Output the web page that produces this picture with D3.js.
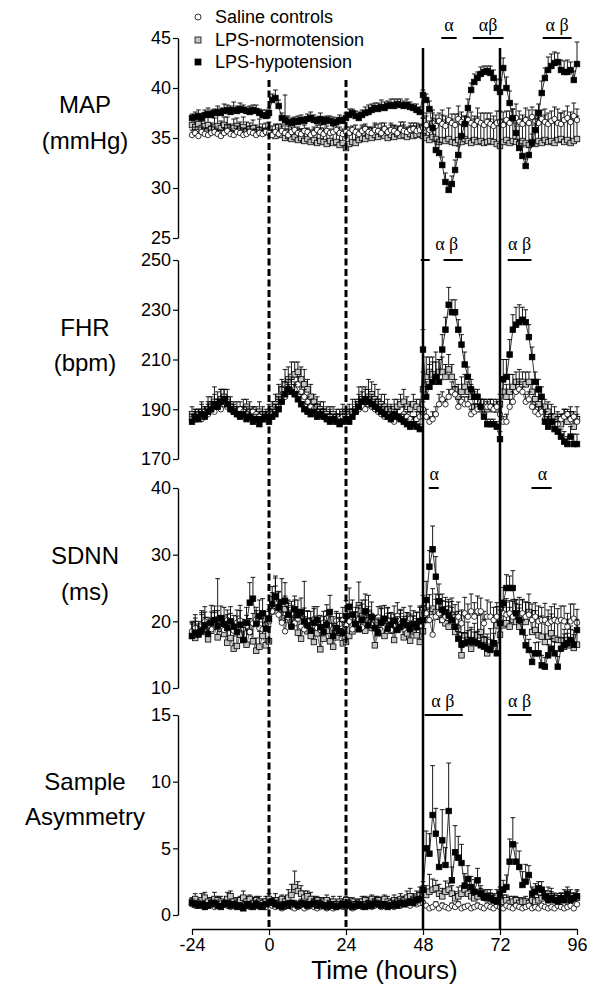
<!DOCTYPE html>
<html><head><meta charset="utf-8">
<script src="https://cdn.jsdelivr.net/npm/d3@7"></script>
<style>body{margin:0;background:#fff}svg{display:block}</style>
</head><body><svg id="c" width="589" height="988"></svg>
<script>
const hours = d3.range(-24, 97);
const xTicks = [-24, 0, 24, 48, 72, 96];
const seriesNames = ["Saline controls", "LPS-normotension", "LPS-hypotension"];

// ---- MAP (mmHg)
const mapSaline = [
35.3,35.5,35.2,35.6,35.4,35.3,35.5,35.6,35.4,35.2,35.5,35.7,35.4,35.3,35.6,35.5,35.3,35.4,35.6,35.5,35.3,35.5,35.4,35.6,
35.5,35.3,35.6,35.4,35.7,35.5,35.3,35.6,35.8,35.5,35.4,35.7,35.6,35.3,35.5,35.8,35.6,35.4,35.7,35.5,35.6,35.8,35.5,35.4,
35.6,35.5,35.8,35.6,35.4,35.7,35.9,35.6,35.5,35.8,35.7,35.5,35.9,35.6,35.8,35.7,35.5,35.9,35.7,35.6,35.8,35.9,35.7,35.8,
36.0,36.3,35.8,36.5,36.2,36.7,36.4,36.2,36.8,36.5,36.3,36.9,36.6,36.4,36.8,36.5,36.3,36.7,36.5,36.3,36.6,36.4,36.2,36.5,
36.6,36.3,36.8,36.5,36.9,37.0,36.6,36.4,36.8,36.5,37.1,36.7,36.5,36.9,36.6,36.4,36.7,36.9,36.5,36.4,36.8,37.0,36.6,37.2,36.8];
const mapNormo = [
36.3,36.1,36.4,36.0,36.2,36.3,35.9,36.1,36.2,36.0,36.3,36.1,35.8,36.0,36.2,35.9,36.1,35.7,35.9,36.0,35.6,35.8,35.5,35.7,
35.6,35.4,35.2,35.5,35.3,35.0,35.2,34.9,35.1,34.8,35.0,34.7,34.9,34.6,34.8,34.5,34.7,34.6,34.4,34.7,34.5,34.6,34.3,34.5,
34.0,34.4,34.6,34.5,34.8,35.0,34.9,35.2,35.0,35.3,35.1,35.4,35.2,35.0,35.3,35.1,35.4,35.2,35.3,35.1,35.4,35.2,35.3,35.4,
35.2,35.0,34.8,35.1,34.9,34.6,34.8,34.7,34.9,34.6,34.5,34.8,34.6,34.9,34.7,34.5,34.8,34.6,34.7,34.5,34.6,34.7,34.6,34.4,
34.2,34.6,34.8,34.5,34.7,34.6,34.4,34.7,34.5,34.3,34.6,34.4,34.7,34.5,34.8,34.6,34.7,34.5,34.8,34.9,34.6,34.8,34.5,34.7,34.9];
const mapHypo = [
37.0,37.1,37.2,37.0,37.3,37.4,37.3,37.5,37.6,37.5,37.7,37.8,37.6,37.8,37.7,37.9,37.8,37.7,37.6,37.8,37.7,37.5,37.3,37.2,
37.5,38.8,39.0,38.2,37.0,36.8,36.6,36.5,36.7,36.6,36.8,36.7,36.9,37.0,36.8,36.7,36.9,36.6,36.8,36.7,36.5,36.6,36.8,36.7,
37.0,37.3,37.5,37.2,37.0,37.3,37.5,37.6,37.8,38.0,37.9,38.1,38.0,38.2,38.3,38.2,38.4,38.3,38.2,38.3,38.1,38.0,37.8,37.6,
39.3,38.8,37.9,36.0,33.8,33.5,32.3,30.6,29.8,30.4,31.8,33.3,35.2,36.4,38.0,39.8,40.6,41.0,41.4,41.6,41.7,41.5,41.0,40.0,
39.6,42.0,40.0,38.5,37.0,35.5,34.0,33.2,32.2,33.3,34.5,35.8,37.5,39.5,41.0,41.8,42.2,42.5,42.6,41.8,41.6,41.6,41.8,40.8,42.4];
const mapSalineErr = [
.5,.6,.4,.5,.6,.5,.7,.5,.4,.6,.5,.6,.5,.4,.6,.5,.7,.5,.6,.4,.5,.6,.5,.4,
.6,.5,.7,.6,.5,.4,.6,.5,.7,.6,.5,.6,.4,.5,.6,.5,.7,.6,.5,.4,.6,.5,.6,.5,
.5,.6,.4,.7,.5,.6,.5,.4,.6,.5,.7,.5,.6,.4,.5,.6,.5,.7,.6,.5,.4,.6,.5,.6,
1.0,1.2,.9,1.3,1.1,.8,1.4,1.0,1.2,.9,1.1,1.3,1.0,.8,1.2,1.1,.9,1.3,1.0,1.2,.9,1.1,1.0,1.2,
1.1,1.3,.9,1.2,1.0,1.4,1.1,.9,1.2,1.3,1.0,1.1,1.2,.9,1.3,1.1,1.0,1.2,1.4,1.1,.9,1.2,1.0,1.3,1.1];
const mapNormoErr = [
.8,.6,.9,.7,1.0,.8,.6,.9,1.1,.7,.8,1.0,.6,.9,.8,.7,1.0,.9,.6,.8,.7,1.1,.9,.8,
1.0,.8,1.2,.9,1.1,4.3,1.0,.8,1.3,1.1,.9,1.2,1.0,.8,1.1,.9,1.3,1.0,1.2,.8,1.1,.9,1.0,1.2,
1.1,.9,1.2,1.0,.8,1.1,1.3,.9,1.0,1.2,.8,1.1,1.0,.9,1.2,1.1,.8,1.0,1.3,.9,1.1,1.0,1.2,.9,
1.8,2.2,1.6,2.4,2.0,1.9,2.5,2.1,1.7,2.3,2.0,2.6,1.8,2.2,2.4,1.9,2.1,2.5,2.0,1.8,2.3,2.2,1.9,2.4,
2.0,2.3,1.9,2.5,2.1,2.4,1.8,2.2,2.6,2.0,2.3,1.9,2.4,2.1,2.5,2.2,1.8,2.3,2.0,2.6,2.2,1.9,2.4,2.1,2.3];
const mapHypoErr = [
.4,.5,.6,.4,.5,.6,.5,.4,.6,.5,.7,.5,.6,.8,.5,.6,.5,.4,.6,.5,.6,.4,.5,.6,
.5,.6,.8,.6,.5,.4,.6,.5,.4,.6,.5,.4,.5,.6,.5,.4,.6,.5,.4,.5,.6,.4,.5,.4,
.5,.6,.4,.5,.6,.5,.6,.7,.6,.5,.6,.7,.6,.5,.6,.7,.5,.6,.5,.6,.5,.4,.6,.5,
.5,.6,.8,1.0,.9,1.1,.8,.9,.7,.8,1.0,.9,1.1,.8,.9,.7,.8,.6,.7,.6,.5,.7,.8,.9,
1.2,1.0,1.1,1.2,.9,1.0,.8,.9,.7,.8,.9,1.1,.9,1.2,1.0,1.3,1.2,1.1,.9,1.0,1.1,1.2,.8,.9,2.2];

// ---- FHR (bpm)
const fhrSaline = [
186,187,188,186,189,188,190,189,191,190,192,191,190,189,188,190,189,188,187,189,188,187,186,187,
187,188,189,191,193,195,197,199,198,200,197,195,193,191,190,189,188,187,186,187,186,185,186,187,
186,187,188,189,190,191,190,192,191,190,189,188,187,188,186,185,187,186,188,187,186,185,186,187,
190,187,185,186,188,192,194,192,195,197,196,191,193,192,192,188,189,190,191,191,191,191,190,191,
188,185,185,191,193,197,198,197,193,194,191,189,188,189,186,185,185,183,184,186,187,188,186,187,185];
const fhrNormo = [
188,186,187,189,188,190,191,193,192,194,195,193,191,190,189,188,190,191,189,188,187,189,188,186,
188,190,192,195,198,200,202,203,204,205,202,200,198,195,193,191,190,189,188,187,188,186,187,188,
187,188,189,190,192,194,193,195,196,194,193,192,191,190,189,190,191,192,193,191,190,192,191,190,
198,203,205,204,203,205,205,203,206,203,198,195,197,199,197,195,191,191,190,189,190,191,190,190,
192,197,195,197,199,201,201,201,200,201,197,194,192,190,191,189,187,187,186,184,187,185,188,183,186];
const fhrHypo = [
185,187,186,188,187,189,190,192,191,193,194,192,190,189,188,187,188,186,187,185,186,184,186,187,
185,187,188,190,193,196,198,197,196,194,192,190,189,188,189,187,188,187,186,185,186,185,184,185,
186,185,187,189,191,193,194,193,192,191,190,189,188,187,186,188,187,186,185,184,183,184,183,182,
214,195,199,201,203,201,214,222,232,229,229,222,216,208,203,198,195,195,191,187,184,184,184,183,
178,202,203,212,222,224,225,226,225,219,211,201,198,195,185,183,185,182,181,179,177,176,179,176,176];
const fhrSalineErr = [
2,3,2,3,2,4,3,2,3,2,3,4,2,3,2,3,2,3,2,2,3,2,3,2,
3,2,3,4,3,2,3,4,3,3,2,3,2,3,2,3,2,3,2,3,2,3,2,3,
2,3,2,3,4,3,2,3,2,3,2,3,2,3,2,2,3,2,3,2,3,2,3,2,
3,3,2,3,3,4,3,2,3,4,3,3,2,3,3,2,3,2,3,3,2,3,2,3,
3,2,3,3,4,3,3,2,3,3,2,3,3,2,3,2,3,2,3,2,3,2,3,2,3];
const fhrNormoErr = [
3,4,3,4,3,5,4,6,5,4,3,5,4,3,4,3,4,3,4,3,3,4,3,4,
4,3,4,5,4,6,5,6,5,4,5,6,4,5,3,4,3,4,3,4,3,4,3,4,
3,4,5,4,7,5,6,7,5,6,5,4,5,4,3,4,3,4,5,4,3,4,3,4,
7,8,6,7,6,5,6,5,6,5,4,5,6,5,4,5,6,5,4,5,4,3,4,3,
4,6,5,7,5,4,5,4,5,4,5,4,5,4,3,4,5,4,3,4,3,4,3,4,5];
const fhrHypoErr = [
3,2,3,4,3,4,3,4,3,5,4,3,3,2,3,2,3,2,3,2,2,3,2,2,
3,3,4,5,6,5,4,5,4,3,4,3,3,2,3,3,2,3,2,3,2,3,2,3,
3,2,3,4,5,4,4,5,4,3,4,3,3,2,3,2,3,2,3,2,2,3,2,2,
8,6,9,8,10,9,6,5,7,5,5,4,4,5,4,4,3,3,3,2,2,2,2,2,
3,8,7,6,6,7,7,5,5,5,4,4,4,4,4,4,3,4,4,3,4,3,4,4,4];

// ---- SDNN (ms)
const sdnnSaline = [
18.5,19.0,18.2,19.5,20.0,19.2,18.8,19.6,20.4,19.1,18.7,20.2,19.4,18.6,19.8,20.1,18.9,19.3,18.4,19.7,20.3,19.0,18.8,19.5,
20.0,21.5,22.8,21.0,19.8,18.5,20.6,21.2,19.7,20.4,19.2,18.8,20.0,19.5,20.3,19.0,18.7,19.8,20.5,19.3,18.9,20.1,19.6,20.2,
19.4,20.0,18.8,19.6,20.3,19.1,21.5,20.2,19.5,18.9,20.6,19.8,19.2,20.1,18.7,19.4,20.8,19.6,18.9,19.9,20.4,19.3,19.7,20.1,
21.9,21.2,20.2,18.0,20.7,21.2,20.2,20.7,21.2,21.0,20.7,20.7,19.7,21.2,20.7,21.5,20.7,21.5,21.5,19.7,20.7,20.7,20.2,20.7,
20.0,21.2,21.0,21.2,20.7,21.2,21.0,21.2,20.7,21.0,20.2,20.7,20.0,20.2,20.2,19.7,20.0,20.2,20.0,20.2,20.0,19.2,20.0,20.4,19.8];
const sdnnNormo = [
17.8,17.5,18.2,19.0,18.4,17.3,18.6,19.2,17.6,18.9,18.1,16.8,17.5,15.9,16.3,18.0,17.2,16.5,18.4,17.0,15.6,16.2,17.8,16.4,
17.0,21.5,23.8,22.0,20.5,21.8,20.2,19.5,21.0,18.3,17.4,19.6,18.5,17.8,16.9,18.2,15.8,17.4,18.6,17.0,16.2,17.6,18.3,16.7,
16.9,17.8,18.5,19.2,22.4,20.8,18.6,21.3,19.0,16.4,18.2,19.5,17.8,20.1,18.6,17.2,18.8,19.4,17.6,18.2,17.1,18.5,17.9,16.9,
18.5,20.2,21.4,21.9,21.4,20.7,20.2,19.7,19.2,20.2,18.4,18.9,14.9,17.9,17.2,15.9,16.9,17.9,18.4,17.2,15.2,16.2,16.7,19.4,
18.0,19.4,19.7,19.2,20.2,19.9,19.2,20.7,19.9,21.4,18.4,18.7,17.9,17.7,16.9,17.7,18.2,17.4,17.2,17.2,16.2,17.2,16.4,16.0,16.5];
const sdnnHypo = [
17.8,18.3,18.0,18.6,19.4,18.1,19.8,20.2,19.3,20.5,19.6,19.0,20.0,19.2,18.4,19.5,17.2,19.8,22.8,23.4,19.6,20.8,21.2,18.9,
20.4,22.6,23.7,22.1,22.9,23.1,21.0,19.2,21.8,20.9,21.4,20.0,19.4,18.6,19.8,20.2,19.1,18.4,19.5,21.4,17.8,19.0,18.5,18.2,
20.8,22.2,21.0,19.6,18.8,20.2,21.5,19.4,20.6,19.0,18.3,19.8,20.4,18.9,19.5,20.1,18.7,19.2,20.0,19.4,18.8,19.6,19.1,20.0,
20.2,23.2,28.2,30.8,26.7,23.0,21.7,21.4,20.9,20.2,19.2,17.4,16.5,16.7,16.9,17.2,16.9,16.7,16.4,16.2,15.9,15.7,16.7,15.2,
19.7,22.7,25.0,25.0,25.0,21.2,20.2,18.4,16.4,15.7,13.9,15.2,15.2,13.4,13.2,14.9,15.9,15.2,13.2,15.9,16.4,16.7,17.2,16.5,18.7];
const sdnnSalineErr = [
1.5,2.0,1.2,1.8,2.2,1.4,1.6,2.0,6.0,1.7,2.1,1.5,1.8,1.2,1.9,2.3,1.4,1.6,2.0,1.5,1.8,1.3,1.7,2.0,
1.8,2.2,2.5,1.9,1.6,2.0,1.5,1.8,2.1,1.4,1.7,1.9,1.5,2.0,1.6,1.8,1.3,1.7,2.0,1.5,1.8,1.4,1.6,1.9,
1.6,1.9,1.4,1.8,2.1,1.5,1.7,2.0,1.4,1.8,1.6,2.1,1.5,1.9,1.3,1.7,2.0,1.6,1.8,1.4,1.9,1.5,1.7,2.2,
2.0,2.4,1.8,2.2,2.6,2.0,1.9,2.3,2.1,2.5,1.8,2.2,2.0,2.4,1.9,2.6,2.1,2.3,2.0,1.8,2.5,2.2,1.9,2.1,
2.2,2.0,2.4,1.9,2.3,2.1,2.6,2.0,2.2,1.8,2.4,2.1,2.3,1.9,2.5,2.0,2.2,2.4,1.9,2.1,2.3,2.0,2.6,2.2,2.0];
const sdnnNormoErr = [
2.0,2.5,1.8,2.6,2.2,1.9,2.8,2.1,2.4,1.7,2.3,2.0,2.7,1.9,2.5,2.2,1.8,2.6,2.0,2.4,1.9,2.3,2.1,2.5,
2.2,2.8,3.0,2.4,2.6,2.0,2.5,2.9,2.2,2.7,2.1,2.4,2.0,2.6,1.9,2.3,2.1,2.5,2.0,2.4,2.2,1.8,2.3,2.0,
2.5,2.1,2.8,2.2,3.5,2.4,2.0,2.6,2.2,2.9,2.1,2.5,2.3,2.0,2.7,2.2,1.9,2.4,2.1,2.6,2.0,2.3,2.5,2.1,
2.8,3.2,2.6,3.0,2.7,3.3,2.9,2.5,3.1,2.8,3.0,2.6,3.4,2.9,2.7,3.2,2.8,3.0,2.6,3.1,2.9,2.7,3.2,2.8,
3.0,2.7,3.2,2.9,3.1,2.8,3.3,2.6,3.0,2.7,3.2,2.9,2.8,3.1,2.7,3.0,2.9,3.2,2.8,3.0,2.6,3.1,2.9,2.7,3.0];
const sdnnHypoErr = [
1.8,2.2,1.6,2.4,2.0,1.9,2.6,2.1,2.3,1.8,2.5,2.0,2.2,1.7,2.4,2.1,1.9,2.3,3.0,3.2,2.0,2.4,2.2,1.9,
2.1,2.6,2.8,2.4,3.5,2.7,2.2,2.5,2.0,2.3,2.1,6.0,2.2,1.9,2.4,2.0,1.8,2.3,2.1,2.5,1.9,2.2,2.0,1.8,
2.3,2.8,2.2,2.5,2.0,2.4,2.6,2.1,2.3,1.9,2.2,2.5,2.0,2.3,1.8,2.2,2.0,2.4,2.1,1.9,2.3,2.0,2.2,2.1,
2.2,2.8,2.4,3.5,3.0,2.6,2.4,2.2,2.0,1.9,1.8,1.6,1.8,1.5,1.7,1.6,1.5,1.8,1.6,1.5,1.7,1.6,1.5,1.6,
2.0,2.4,2.0,1.8,2.6,2.0,1.8,1.7,1.5,1.6,1.5,1.6,1.7,1.5,1.4,1.6,1.5,1.7,1.5,1.6,1.7,1.5,1.6,1.5,1.6];

// ---- Sample Asymmetry
const saSaline = [
.8,.7,.9,.8,.6,.7,.8,.6,.7,.9,.8,.7,.6,.8,.7,.6,.8,.7,.6,.7,.8,.6,.7,.6,
.8,.7,.6,.7,.5,.6,.7,.6,.5,.6,.7,.5,.6,.7,.6,.5,.6,.7,.5,.6,.5,.6,.7,.6,
.6,.7,.5,.6,.7,.6,.8,.7,.6,.7,.8,.6,.7,.8,.7,.6,.8,.7,.9,.8,.7,.9,.8,.9,
.9,.7,.5,.6,.8,.5,.7,.6,.5,.7,.6,.8,.5,.6,.7,.5,.6,.7,.6,.5,.7,.6,.5,.7,
.6,.5,.7,.6,.5,.7,.6,.5,.6,.7,.5,.6,.5,.7,.6,.5,.6,.5,.7,.6,.5,.6,.7,.5,.8];
const saNormo = [
1.0,1.2,0.9,1.1,1.3,1.0,0.9,1.2,1.1,1.0,0.8,1.2,1.4,1.0,0.9,1.1,1.3,1.0,1.2,0.9,1.1,1.0,0.9,1.0,
1.2,1.0,1.1,0.9,1.2,1.0,1.3,1.5,2.1,1.8,1.6,1.3,1.4,1.2,1.0,1.1,0.9,1.0,1.1,0.9,1.0,0.8,1.0,0.9,
1.1,0.9,1.0,0.8,0.9,1.0,1.1,0.9,1.2,1.0,1.1,0.9,1.2,1.0,0.9,1.1,1.0,1.2,1.1,1.3,1.4,1.2,1.3,1.5,
1.6,1.5,1.75,1.9,2.0,1.6,1.4,1.75,1.9,1.6,1.25,1.4,1.6,1.9,1.6,1.4,1.25,1.4,1.6,1.4,1.25,1.4,1.1,1.4,
1.1,1.0,1.1,0.9,1.0,1.1,0.9,1.0,1.0,0.9,1.1,1.0,1.1,1.25,1.4,1.6,1.4,1.25,1.1,1.25,1.4,1.25,1.4,1.25,1.3];
const saHypo = [
.9,.8,.7,.8,.6,.7,.8,.9,.7,.6,.8,.9,.7,.8,.6,.7,.5,.8,.7,.6,.8,.7,.6,.8,
.9,1.0,.8,.7,.6,.8,.7,.9,.8,.7,.9,.8,.7,.8,.9,.7,.8,.7,.6,.8,.7,.6,.7,.8,
.7,.8,.6,.7,.8,.7,.6,.8,.7,.9,.8,.7,.8,.6,.7,.8,.7,.9,.8,.9,1.0,.9,1.1,1.2,
1.9,5.0,4.6,7.5,6.1,3.6,5.6,3.75,7.8,2.6,4.7,4.3,3.9,2.2,2.7,2.1,1.75,2.6,1.6,1.3,1.4,1.25,1.1,1.0,
1.6,1.9,2.1,4.0,5.3,4.0,3.6,2.25,2.5,3.0,1.6,1.75,2.0,1.9,1.4,1.1,1.25,1.1,1.0,1.25,1.1,1.6,1.1,1.25,1.4];
const saSalineErr = [
.2,.1,.2,.2,.1,.2,.1,.2,.2,.1,.2,.1,.2,.2,.1,.2,.1,.2,.2,.1,.2,.1,.2,.1,
.2,.1,.2,.1,.1,.2,.1,.2,.1,.1,.2,.1,.2,.1,.2,.1,.1,.2,.1,.2,.1,.2,.1,.2,
.1,.2,.1,.2,.1,.1,.2,.1,.2,.1,.2,.1,.2,.1,.2,.1,.2,.2,.1,.2,.1,.2,.1,.2,
.2,.1,.2,.1,.2,.1,.2,.1,.1,.2,.1,.2,.1,.2,.1,.2,.1,.2,.1,.1,.2,.1,.2,.1,
.1,.2,.1,.2,.1,.2,.1,.1,.2,.1,.2,.1,.2,.1,.1,.2,.1,.2,.1,.2,.1,.2,.1,.2,.1];
const saNormoErr = [
.3,.4,.3,.5,.4,.3,.4,.5,.3,.4,.3,.5,.4,.3,.4,.3,.5,.4,.3,.4,.3,.4,.3,.4,
.4,.3,.5,.4,.3,.4,.6,.8,1.2,.7,.6,.5,.4,.5,.4,.3,.4,.3,.4,.3,.4,.3,.4,.3,
.3,.4,.3,.4,.3,.4,.3,.4,.3,.4,.3,.4,.3,.4,.3,.4,.3,.4,.3,.5,.6,.4,.5,.6,
.6,.7,1.3,.8,.6,.7,.6,.8,.5,.6,.5,.7,.6,.5,.6,.5,.4,.5,.4,.5,.4,.5,.4,.5,
.4,.5,.4,.5,.4,.3,.4,.3,.4,.3,.4,.3,.4,.5,.4,.5,.6,.4,.5,.4,.5,.4,.5,.4,.5];
const saHypoErr = [
.3,.2,.3,.2,.3,.2,.3,.2,.3,.2,.3,.2,.3,.2,.3,.2,.3,.2,.3,.2,.3,.2,.3,.2,
.3,.2,.3,.2,.3,.2,.3,.2,.3,.2,.3,.2,.3,.2,.3,.2,.3,.2,.3,.2,.3,.2,.3,.2,
.2,.3,.2,.3,.2,.3,.2,.3,.2,.3,.2,.3,.2,.3,.2,.3,.2,.3,.2,.3,.2,.4,.3,.5,
.6,1.3,1.5,3.7,1.9,1.3,2.3,1.3,3.6,1.0,2.0,1.6,1.4,.9,1.0,.8,.9,.9,.6,.5,.5,.4,.4,.3,
.5,.7,.9,1.7,2.0,1.4,1.2,1.0,1.3,.7,.5,.6,.5,.6,.4,.4,.5,.4,.3,.4,.3,.5,.3,.4,.5];

const panelLabels = [["MAP","(mmHg)"],["FHR","(bpm)"],["SDNN","(ms)"],["Sample","Asymmetry"]];
const panelDomains = [[25,45],[170,250],[10,40],[0,15]];
const panelTicks = [[25,30,35,40,45],[170,190,210,230,250],[10,20,30,40],[0,5,10,15]];
const panelData = [[mapSaline,mapNormo,mapHypo],[fhrSaline,fhrNormo,fhrHypo],[sdnnSaline,sdnnNormo,sdnnHypo],[saSaline,saNormo,saHypo]];
const panelErr = [[mapSalineErr,mapNormoErr,mapHypoErr],[fhrSalineErr,fhrNormoErr,fhrHypoErr],[sdnnSalineErr,sdnnNormoErr,sdnnHypoErr],[saSalineErr,saNormoErr,saHypoErr]];
// significance annotations: [label, label hour, bar start hour, bar end hour]
const sigMarks = [
  [["α",56.1,53.7,58.5],["αβ",68.3,63.5,73.1],["α β",89.8,85.3,94.3]],
  [["α β",55.4,47.3,50.1],["",0,54.4,60.4],["α β",78.1,74.4,81.8]],
  [["α",51.5,49.8,52.9],["α",85.2,81.8,88.1]],
  [["α β",54.2,48.5,60.4],["α β",78.1,74.4,81.8]]
];

// ---------------- drawing ----------------
const FONT = "'Liberation Sans', Arial, Helvetica, sans-serif";
const SERIF = "'Liberation Serif', 'Times New Roman', serif";
const svg = d3.select("#c");
const x = d3.scaleLinear().domain([-24, 96]).range([192, 577]);
const layout = [
  {top:38, bottom:238, ly:[113,149], sy:31},
  {top:260, bottom:459, ly:[336,371], sy:250},
  {top:488, bottom:688, ly:[564,600], sy:480},
  {top:715, bottom:915, ly:[790,825], sy:707}
];
const axisX = 178, xAxisY = 929;
const styles = [
  {shape:"circle", fill:"#fff"},
  {shape:"square", fill:"#c4c4c4"},
  {shape:"square", fill:"#000"}
];
const drawOrder = [1, 0, 2];

function marker(sel, st, cx, cy, s) {
  if (st.shape === "circle") {
    sel.append("circle").attr("cx", cx).attr("cy", cy).attr("r", s/2)
      .attr("fill", st.fill).attr("stroke", "#000").attr("stroke-width", 0.8);
  } else {
    sel.append("rect").attr("x", cx - s/2).attr("y", cy - s/2).attr("width", s).attr("height", s)
      .attr("fill", st.fill).attr("stroke", "#000").attr("stroke-width", 0.8);
  }
}

const seriesLayer = svg.append("g");
const refLayer = svg.append("g");
const axisLayer = svg.append("g");

panelData.forEach((pd, i) => {
  const L = layout[i];
  const y = d3.scaleLinear().domain(panelDomains[i]).range([L.bottom, L.top]);
  const ax = axisLayer.append("g").attr("transform", `translate(${axisX},0)`)
    .call(d3.axisLeft(y).tickValues(panelTicks[i]).tickSize(5).tickSizeOuter(0).tickPadding(2).tickFormat(d => String(d)));
  ax.select(".domain").attr("stroke-width", 1.4);
  ax.selectAll(".tick line").attr("stroke-width", 1.2);
  ax.selectAll("text").attr("font-size", 18).attr("font-family", FONT).attr("fill", "#000");

  panelLabels[i].forEach((t, k) => {
    axisLayer.append("text").attr("x", 85).attr("y", L.ly[k]).attr("text-anchor", "middle")
      .attr("font-family", FONT).attr("font-size", 24).text(t);
  });

  drawOrder.forEach(si => {
    const vals = pd[si], errs = panelErr[i][si];
    const pts = hours.map((h, k) => ({h, v: vals[k], e: errs[k]})).filter(d => d.v !== undefined);
    const g = seriesLayer.append("g");
    g.selectAll("line.eb").data(pts).join("line").attr("class","eb")
      .attr("x1", d => x(d.h)).attr("x2", d => x(d.h))
      .attr("y1", d => y(d.v)).attr("y2", d => y(d.v + d.e))
      .attr("stroke", "#000").attr("stroke-width", 0.9);
    g.selectAll("line.cap").data(pts).join("line").attr("class","cap")
      .attr("x1", d => x(d.h) - 2.4).attr("x2", d => x(d.h) + 2.4)
      .attr("y1", d => y(d.v + d.e)).attr("y2", d => y(d.v + d.e))
      .attr("stroke", "#000").attr("stroke-width", 0.9);
    g.append("path").datum(pts)
      .attr("d", d3.line().x(d => x(d.h)).y(d => y(d.v)))
      .attr("fill", "none").attr("stroke", si === 2 ? "#000" : "#444").attr("stroke-width", 0.8);
    pts.forEach(d => marker(g, styles[si], x(d.h), y(d.v), 5.5));
  });

  sigMarks[i].forEach(([lab, th, h0, h1]) => {
    axisLayer.append("line").attr("x1", x(h0)).attr("x2", x(h1)).attr("y1", L.top).attr("y2", L.top)
      .attr("stroke", "#000").attr("stroke-width", 2);
    if (lab) axisLayer.append("text").attr("x", x(th)).attr("y", L.sy)
      .attr("text-anchor", "middle").attr("font-family", SERIF).attr("font-size", 18).text(lab);
  });
});

// reference lines
[0, 24].forEach(h => {
  refLayer.append("line").attr("x1", x(h)).attr("x2", x(h)).attr("y1", 80).attr("y2", xAxisY - 2)
    .attr("stroke", "#000").attr("stroke-width", 3).attr("stroke-dasharray", "7,3.5");
});
[48, 72].forEach(h => {
  refLayer.append("line").attr("x1", x(h)).attr("x2", x(h)).attr("y1", 48).attr("y2", xAxisY)
    .attr("stroke", "#000").attr("stroke-width", 2.5);
});

// x axis
const xa = axisLayer.append("g").attr("transform", `translate(0,${xAxisY})`)
  .call(d3.axisBottom(x).tickValues(xTicks).tickSize(6).tickSizeOuter(0).tickPadding(3).tickFormat(d => String(d)));
xa.select(".domain").attr("stroke-width", 1.4);
xa.selectAll(".tick line").attr("stroke-width", 1.2);
xa.selectAll("text").attr("font-size", 18).attr("font-family", FONT).attr("fill", "#000");
axisLayer.append("text").attr("x", x(36)).attr("y", 979).attr("text-anchor", "middle")
  .attr("font-family", FONT).attr("font-size", 26).text("Time (hours)");

// legend
const legY = [17, 40, 62];
seriesNames.forEach((n, i) => {
  const g = axisLayer.append("g");
  marker(g, styles[i], 198, legY[i], 6);
  g.append("text").attr("x", 215).attr("y", legY[i] + 6).attr("font-family", FONT).attr("font-size", 18).text(n);
});
</script></body></html>
